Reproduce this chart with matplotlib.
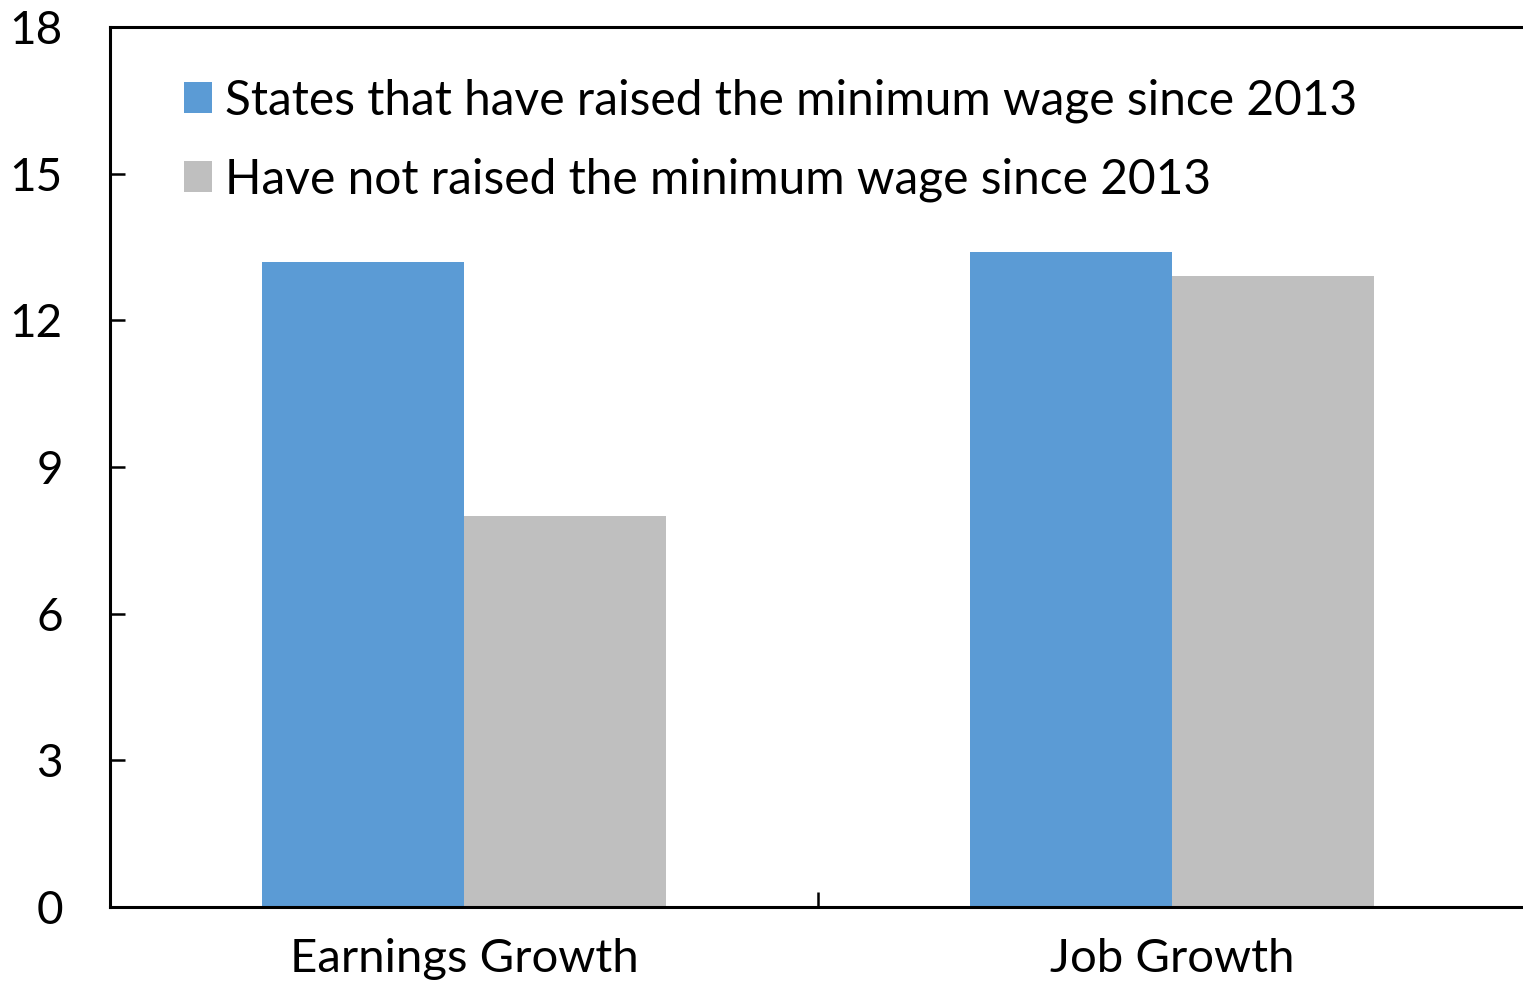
import numpy as np
import matplotlib.pyplot as plt
from matplotlib.ticker import FixedLocator

# --- Data ---
categories = ["Earnings Growth", "Job Growth"]
raised = [13.2, 13.4]
not_raised = [8.0, 12.9]
series_labels = ["States that have raised the minimum wage since 2013",
                 "Have not raised the minimum wage since 2013"]
y_ticks = [0, 3, 6, 9, 12, 15, 18]

blue = "#5B9BD5"
gray = "#BFBFBF"

plt.rcParams['font.family'] = ['Lato', 'DejaVu Sans']

fig = plt.figure(figsize=(15.23, 9.84), dpi=100)
ax = fig.add_axes([110 / 1523, 77 / 984, 1416 / 1523, 880 / 984])

x = np.arange(len(categories))
w = 0.285
ax.bar(x - w / 2, raised, w, color=blue, label=series_labels[0], zorder=2)
ax.bar(x + w / 2, not_raised, w, color=gray, label=series_labels[1], zorder=2)

ax.set_xlim(-0.5, len(categories) - 0.5)
ax.set_ylim(0, 18)

# y axis
ax.set_yticks(y_ticks)
ax.tick_params(axis='y', direction='in', length=11, width=1.8, pad=34,
               labelsize=33, color='black')

# x axis: labels at centres, tick marks between groups
ax.set_xticks(x)
ax.set_xticklabels(categories)
ax.xaxis.set_minor_locator(FixedLocator([0.5]))
ax.tick_params(axis='x', which='major', length=0, pad=22, labelsize=34)
ax.tick_params(axis='x', which='minor', direction='in', length=11, width=1.8)

for side in ['left', 'top', 'bottom']:
    ax.spines[side].set_linewidth(2.2)
ax.spines['right'].set_visible(False)

leg = ax.legend(loc='upper left', bbox_to_anchor=(0.0385, 0.963), frameon=False,
                fontsize=34.5, handlelength=0.6, handleheight=0.62,
                handletextpad=0.27, labelspacing=0.72, borderaxespad=0)

fig.savefig("out.png", dpi=100)
